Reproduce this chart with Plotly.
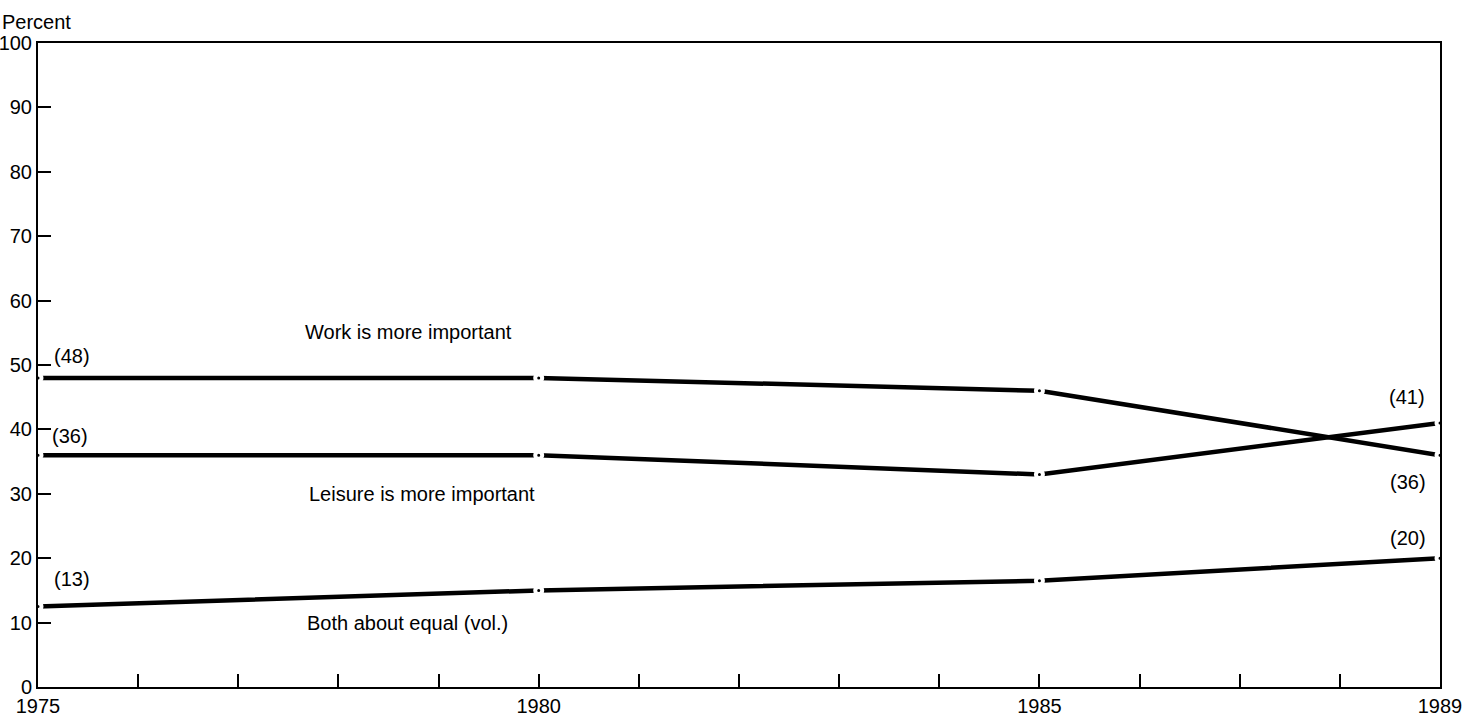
import plotly.graph_objects as go

years = [1975, 1980, 1985, 1989]
work = [48, 48, 46, 36]
leisure = [36, 36, 33, 41]
both = [12.5, 15, 16.5, 20]

all_years = list(range(1975, 1990))
year_labels = {1975: "1975", 1980: "1980", 1985: "1985", 1989: "1989"}
y_ticks = list(range(0, 101, 10))

FONT = "Liberation Sans, Arial, Helvetica, sans-serif"
FS = 20

fig = go.Figure()
for name, vals in [("Work is more important", work),
                   ("Leisure is more important", leisure),
                   ("Both about equal (vol.)", both)]:
    fig.add_trace(go.Scatter(
        x=years, y=vals, mode="lines+markers", name=name,
        line=dict(color="black", width=4.5),
        marker=dict(color="black", size=7, line=dict(color="white", width=4)),
        cliponaxis=False, showlegend=False, hoverinfo="x+y",
    ))

annotations = [
    dict(x=1977.65, y=55.2, text="Work is more important", xanchor="left"),
    dict(x=1977.69, y=30.0, text="Leisure is more important", xanchor="left"),
    dict(x=1977.67, y=10.0, text="Both about equal (vol.)", xanchor="left"),
    dict(x=1975.14, y=51.4, text="(48)", xanchor="left"),
    dict(x=1975.12, y=38.9, text="(36)", xanchor="left"),
    dict(x=1975.14, y=16.8, text="(13)", xanchor="left"),
    dict(x=1988.87, y=45.0, text="(41)", xanchor="right"),
    dict(x=1988.88, y=31.8, text="(36)", xanchor="right"),
    dict(x=1988.88, y=23.2, text="(20)", xanchor="right"),
]
for a in annotations:
    a.update(xref="x", yref="y", showarrow=False, yanchor="middle",
             font=dict(family=FONT, size=FS, color="black"))
    fig.add_annotation(**a)

W, H = 1469, 719
L, R, T, B = 38, 29, 43, 32
pw, ph = W - L - R, H - T - B
fig.add_annotation(xref="paper", yref="paper", x=-L / pw, y=1 + (T - 22) / ph,
                   text="Percent", showarrow=False, xanchor="left", yanchor="middle",
                   font=dict(family=FONT, size=FS, color="black"))

fig.update_layout(
    width=W, height=H,
    margin=dict(l=L, r=R, t=T, b=B, autoexpand=False),
    plot_bgcolor="white", paper_bgcolor="white",
    font=dict(family=FONT, size=FS, color="black"),
    xaxis=dict(range=[1975, 1989], tickvals=all_years,
               ticktext=[year_labels.get(y, "") for y in all_years],
               ticks="inside", ticklen=13, tickwidth=1.5, tickcolor="black",
               showline=True, linecolor="black", linewidth=2, mirror=True,
               showgrid=False, zeroline=False, tickangle=0,
               tickfont=dict(family=FONT, size=FS)),
    yaxis=dict(range=[0, 100], tickvals=y_ticks,
               ticks="inside", ticklen=13, tickwidth=1.5, tickcolor="black",
               showline=True, linecolor="black", linewidth=2, mirror=True,
               showgrid=False, zeroline=False,
               tickfont=dict(family=FONT, size=FS)),
)

fig.write_html("out.html", config={"displayModeBar": False},
               post_script="document.body.style.margin='0';document.body.style.overflow='hidden';")
